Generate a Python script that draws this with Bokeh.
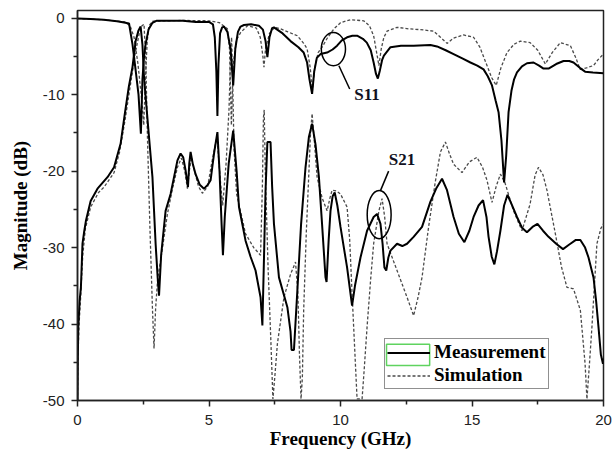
from bokeh.plotting import figure
from bokeh.models import Legend, LegendItem, Label, FixedTicker
from bokeh.embed import file_html
from bokeh.resources import INLINE

# ---------------- data ----------------
s11_meas_f = [0, 0.5, 1.0, 1.5, 1.77, 1.96, 2.09, 2.2, 2.32, 2.41, 2.47, 2.53, 2.59, 2.7, 2.85, 3.0, 4.0, 4.5, 5.0, 5.15, 5.22, 5.28, 5.32, 5.36, 5.42, 5.5, 5.57, 5.7, 5.82, 5.92, 6.0, 6.1, 6.2, 6.33, 6.6, 6.9, 7.05, 7.15, 7.22, 7.3, 7.4, 7.47, 7.8, 8.1, 8.4, 8.6, 8.73, 8.82, 8.92, 9.0, 9.1, 9.24, 9.49, 9.7, 9.87, 10.05, 10.25, 10.45, 10.63, 10.85, 11.0, 11.15, 11.26, 11.35, 11.42, 11.5, 11.58, 11.65, 11.9, 12.3, 12.78, 13.42, 13.67, 14.0, 14.3, 14.65, 14.94, 15.2, 15.44, 15.6, 15.76, 15.9, 16.01, 16.12, 16.22, 16.3, 16.39, 16.5, 16.6, 16.71, 16.9, 17.09, 17.34, 17.55, 17.72, 17.91, 18.2, 18.48, 18.7, 18.86, 19.1, 19.3, 19.6, 20.0]
s11_meas_db = [-0.05, -0.1, -0.22, -0.4, -0.57, -0.7, -3.4, -6.5, -10, -15.1, -8, -5, -3.4, -1.5, -0.6, -0.35, -0.35, -0.5, -0.5, -0.8, -2.5, -7, -12.8, -6, -2, -1.2, -1.1, -1.8, -4, -8.8, -4, -1.8, -1.1, -0.9, -0.8, -1.0, -1.5, -3, -5.1, -2.5, -1.3, -1.2, -2.0, -3.0, -3.8, -4.5, -5.8, -8, -9.9, -7, -5.2, -4.7, -4.5, -4.1, -3.6, -2.9, -2.5, -2.3, -2.3, -2.7, -3.2, -4.2, -5.8, -7.3, -7.9, -6.8, -5.5, -4.9, -3.8, -3.6, -3.6, -3.5, -3.7, -4.2, -4.7, -5.3, -5.8, -6.2, -6.7, -7.6, -8.8, -10.8, -12.3, -16, -21.5, -18, -12.3, -9.5, -8, -7.1, -6.3, -5.9, -5.8, -6.2, -6.6, -6.6, -6.0, -5.6, -5.6, -5.8, -6.5, -7.0, -7.1, -7.2]

s11_sim_f = [0, 1.0, 1.8, 2.0, 2.15, 2.3, 2.45, 2.52, 2.58, 2.65, 2.72, 2.85, 4.0, 5.0, 5.4, 5.55, 5.7, 5.78, 5.85, 5.92, 6.05, 6.2, 6.46, 6.8, 6.95, 7.05, 7.09, 7.15, 7.3, 7.5, 7.72, 8.0, 8.36, 8.6, 8.73, 8.85, 8.93, 9.02, 9.15, 9.3, 9.5, 9.75, 10.0, 10.38, 10.88, 11.1, 11.26, 11.4, 11.46, 11.55, 11.65, 11.77, 12.15, 12.6, 13.04, 13.54, 13.8, 14.05, 14.3, 14.68, 15.06, 15.3, 15.57, 15.75, 15.92, 16.1, 16.33, 16.6, 16.84, 17.21, 17.5, 17.79, 18.05, 18.36, 18.74, 18.95, 19.11, 19.35, 19.62, 19.8, 20.0]
s11_sim_db = [-0.05, -0.2, -0.5, -1.0, -2.5, -6, -11, -14, -8, -3, -1.0, -0.4, -0.3, -0.35, -0.6, -1.0, -1.4, -4, -14, -6, -2.8, -1.9, -1.0, -1.3, -2.5, -5, -6.4, -4, -2, -1.2, -1.4, -1.8, -2.3, -3.3, -4.0, -6.5, -9.5, -6.5, -4.5, -3.8, -2.6, -1.4, -0.6, -0.2, -0.35, -1.0, -2.3, -5, -6.2, -4, -2.5, -1.7, -1.2, -1.4, -1.5, -1.7, -2.5, -3.3, -2.6, -2.2, -2.5, -3.8, -6.2, -7.8, -8.8, -6.5, -4.5, -3.4, -3.0, -3.2, -4.2, -6.0, -4.5, -3.2, -3.6, -5.2, -6.7, -6.5, -6.2, -5.4, -4.7]

s21_meas_f = [0.0, 0.01, 0.03, 0.08, 0.13, 0.19, 0.25, 0.32, 0.5, 0.76, 1.14, 1.39, 1.64, 1.8, 1.95, 2.09, 2.21, 2.32, 2.4, 2.47, 2.53, 2.62, 2.72, 2.85, 2.97, 3.05, 3.1, 3.18, 3.35, 3.54, 3.8, 3.92, 4.02, 4.11, 4.2, 4.25, 4.3, 4.38, 4.49, 4.65, 4.81, 4.95, 5.06, 5.2, 5.32, 5.4, 5.48, 5.53, 5.6, 5.75, 5.92, 6.05, 6.14, 6.39, 6.58, 6.77, 6.96, 7.03, 7.1, 7.15, 7.22, 7.34, 7.4, 7.47, 7.66, 7.98, 8.1, 8.14, 8.23, 8.36, 8.5, 8.67, 8.8, 8.92, 9.05, 9.18, 9.3, 9.43, 9.47, 9.55, 9.62, 9.7, 9.78, 9.88, 10.0, 10.25, 10.44, 10.55, 10.76, 11.01, 11.26, 11.39, 11.52, 11.6, 11.67, 11.74, 11.82, 11.9, 12.15, 12.35, 12.53, 12.78, 13.1, 13.42, 13.65, 13.86, 14.05, 14.3, 14.5, 14.71, 14.9, 15.06, 15.25, 15.42, 15.55, 15.63, 15.75, 15.85, 15.95, 16.08, 16.22, 16.35, 16.5, 16.71, 16.9, 17.09, 17.3, 17.49, 17.7, 17.91, 18.2, 18.46, 18.7, 18.95, 19.12, 19.3, 19.43, 19.62, 19.72, 19.81, 19.9, 19.98, 20.0]
s21_meas_db = [-50, -45, -40.4, -37, -35.2, -29.5, -28, -26.5, -23.9, -22.3, -20.8, -19.5, -16.4, -12.5, -9, -6.4, -3.0, -1.6, -1.1, -3.5, -7.8, -11.5, -15.6, -20.8, -29.5, -34, -36.3, -31, -25.2, -23, -18.6, -17.7, -18.2, -19.9, -22.1, -19, -17.5, -19, -20.4, -21.8, -22.3, -21.8, -21.2, -17.5, -14.9, -20, -27, -31.0, -26, -19, -14.7, -20, -24.7, -29.1, -31.2, -33, -36.5, -40.2, -30, -22.5, -16.2, -16.2, -22, -26.9, -33.9, -37.8, -41, -43.4, -43.4, -35.6, -27, -19.5, -15.5, -13.8, -16.5, -20.8, -27, -33.9, -34.5, -29, -25.2, -23.3, -22.8, -24.5, -27.3, -32.6, -37.6, -35, -31.3, -27.8, -26.0, -25.6, -26.9, -29.5, -32.6, -33.0, -31.3, -30.4, -29.5, -29.8, -29.5, -28.6, -27.3, -24, -22.2, -21.0, -22.5, -26.0, -28.2, -29.3, -27.8, -26.0, -24.5, -23.8, -26, -28.6, -31.2, -32.2, -30.5, -27.8, -24.5, -23.1, -24.3, -26.0, -27.4, -28.0, -27.3, -26.9, -27.8, -28.6, -29.5, -30.2, -29.6, -29.0, -29.0, -30.0, -31.3, -33.9, -37, -40.4, -44, -45.2, -44.5]

s21_sim_f = [0.0, 0.02, 0.06, 0.12, 0.2, 0.3, 0.5, 0.8, 1.01, 1.39, 1.6, 1.8, 2.0, 2.2, 2.35, 2.45, 2.53, 2.6, 2.66, 2.75, 2.85, 2.91, 2.97, 3.05, 3.16, 3.42, 3.6, 3.8, 3.95, 4.08, 4.18, 4.25, 4.33, 4.45, 4.6, 4.75, 4.95, 5.1, 5.3, 5.45, 5.52, 5.65, 5.76, 5.82, 5.86, 5.9, 5.95, 6.05, 6.39, 6.7, 6.96, 7.03, 7.07, 7.1, 7.14, 7.25, 7.35, 7.43, 7.5, 7.6, 7.85, 8.1, 8.29, 8.38, 8.44, 8.5, 8.55, 8.6, 8.7, 8.79, 8.86, 8.92, 8.98, 9.11, 9.3, 9.49, 9.6, 9.68, 9.85, 10.0, 10.25, 10.35, 10.44, 10.55, 10.63, 10.82, 10.9, 11.01, 11.15, 11.26, 11.46, 11.58, 11.68, 11.77, 12.15, 12.53, 12.78, 12.95, 13.1, 13.35, 13.6, 13.8, 13.99, 14.15, 14.3, 14.62, 14.9, 15.19, 15.4, 15.57, 15.76, 15.92, 16.08, 16.25, 16.58, 16.9, 17.21, 17.4, 17.53, 17.7, 17.85, 18.17, 18.4, 18.61, 18.86, 19.12, 19.3, 19.37, 19.45, 19.56, 19.75, 19.9, 20.0]
s21_sim_db = [-50, -44, -40, -36.5, -31, -27.5, -24.7, -22.8, -22.1, -20.2, -17.5, -13.5, -9, -4.5, -2, -1.0, -0.8, -6, -15.6, -27, -38, -43.2, -38, -34, -31.7, -25.6, -22.5, -19.5, -18.3, -20, -22.3, -20, -18.2, -20, -22, -22.9, -22, -19, -15.5, -22, -24.5, -19, -12, -5, -2.5, -8, -17, -23, -28.2, -30, -31, -22, -13, -12, -20, -33, -42, -49.8, -47, -42.6, -36.5, -33.5, -31.9, -36, -44, -49.8, -47, -38.2, -28, -20.8, -15, -12.5, -15, -20.8, -23.5, -25.2, -23.5, -22.5, -22.6, -23.0, -24.7, -29, -36, -44, -49.8, -49.8, -46, -40.4, -34, -29.5, -25.2, -23.6, -26, -29.5, -33.0, -36.5, -38.9, -36.5, -33.9, -27.3, -21.5, -17.5, -16.2, -17.8, -19.1, -20.2, -18.8, -18.2, -19.5, -21.2, -24.1, -22, -20.4, -21.5, -25.2, -27.8, -24.3, -20.5, -19.5, -20.5, -22.5, -28.2, -32.5, -35.2, -35.4, -38.2, -45.2, -49.8, -46, -40.4, -29.5, -27.5, -26.9]

x_ticks = [0, 5, 10, 15, 20]
x_tick_labels = ["0", "5", "10", "15", "20"]
x_minor = [2.5, 7.5, 12.5, 17.5]
y_ticks = [0, -10, -20, -30, -40, -50]
y_tick_labels = ["0", "-10", "-20", "-30", "-40", "-50"]
y_minor = [-5, -15, -25, -35, -45]

series_names = ["Measurement", "Simulation"]

# ---------------- figure ----------------
p = figure(width=613, height=454, x_range=(0, 20), y_range=(-50, 1),
           output_backend="svg", toolbar_location=None,
           min_border_left=77, min_border_right=10, min_border_top=10,
           min_border_bottom=54)
p.xgrid.visible = False
p.ygrid.visible = False
p.outline_line_color = "#222222"
p.outline_line_width = 1.5
p.background_fill_color = "white"
p.border_fill_color = "white"

SERIF = "Liberation Serif"
SANS = "Liberation Sans"

for ax in (p.xaxis[0], p.yaxis[0]):
    ax.axis_line_width = 1.5
    ax.axis_line_color = "#222222"
    ax.major_tick_line_width = 1.5
    ax.minor_tick_line_width = 1.5
    ax.major_tick_line_color = "#222222"
    ax.minor_tick_line_color = "#222222"
    ax.major_tick_out = 6
    ax.major_tick_in = 0
    ax.minor_tick_out = 4
    ax.minor_tick_in = 0
    ax.major_label_text_font = SANS
    ax.major_label_text_font_size = "15px"
    ax.major_label_text_color = "#222222"
    ax.axis_label_text_font = SERIF
    ax.axis_label_text_font_style = "bold"
    ax.axis_label_text_font_size = "19px"
    ax.axis_label_text_color = "black"

p.xaxis.ticker = FixedTicker(ticks=x_ticks, minor_ticks=x_minor)
p.yaxis.ticker = FixedTicker(ticks=y_ticks, minor_ticks=y_minor)
p.xaxis.major_label_overrides = {t: s for t, s in zip(x_ticks, x_tick_labels)}
p.yaxis.major_label_overrides = {t: s for t, s in zip(y_ticks, y_tick_labels)}
p.xaxis.axis_label = "Frequency (GHz)"
p.yaxis.axis_label = "Magnitude (dB)"
p.xaxis.major_label_standoff = 8
p.yaxis.major_label_standoff = 7
p.xaxis.axis_label_standoff = 0
p.yaxis.axis_label_standoff = 9

SIM_COLOR = "#4a4a4a"

# green highlight box around the legend's line sample (drawn below the legend)
p.quad(left=[11.75], right=[13.39], top=[-42.65], bottom=[-45.43],
       fill_alpha=0, line_color="#5fd35f", line_width=1.5)

r_s11_sim = p.line(s11_sim_f, s11_sim_db, line_color=SIM_COLOR, line_width=1.3, line_dash="3 2")
r_s21_sim = p.line(s21_sim_f, s21_sim_db, line_color=SIM_COLOR, line_width=1.3, line_dash="3 2")
r_s11_meas = p.line(s11_meas_f, s11_meas_db, line_color="black", line_width=2)
r_s21_meas = p.line(s21_meas_f, s21_meas_db, line_color="black", line_width=2)

# annotations: ellipses, leader lines, labels
p.ellipse(x=[9.73, 11.47], y=[-4.05, -25.7], width=[0.92, 0.91], height=[4.35, 6.3],
          fill_alpha=0, line_color="black", line_width=1.5)
p.line([9.94, 10.35], [-6.23, -9.27], line_color="black", line_width=1.5)
p.line([11.52, 11.83], [-22.55, -20.0], line_color="black", line_width=1.5)
p.add_layout(Label(x=11.01, y=-9.95, text="S11", text_font=SERIF, text_font_style="bold",
                   text_font_size="17px", text_align="center", text_baseline="middle",
                   text_color="#111122"))
p.add_layout(Label(x=12.34, y=-18.5, text="S21", text_font=SERIF, text_font_style="bold",
                   text_font_size="17px", text_align="center", text_baseline="middle",
                   text_color="#111122"))

legend = Legend(items=[LegendItem(label=series_names[0], renderers=[r_s21_meas]),
                       LegendItem(label=series_names[1], renderers=[r_s21_sim])],
                location=(307, 11), orientation="vertical",
                border_line_color="#222222", border_line_width=1.3,
                background_fill_alpha=0,
                padding=2, spacing=1, margin=0, glyph_width=43, glyph_height=21,
                label_height=21, label_standoff=4,
                label_text_font=SERIF, label_text_font_style="bold",
                label_text_font_size="19px", label_text_color="black")
p.add_layout(legend)

open("out.html", "w").write(file_html(p, INLINE))
